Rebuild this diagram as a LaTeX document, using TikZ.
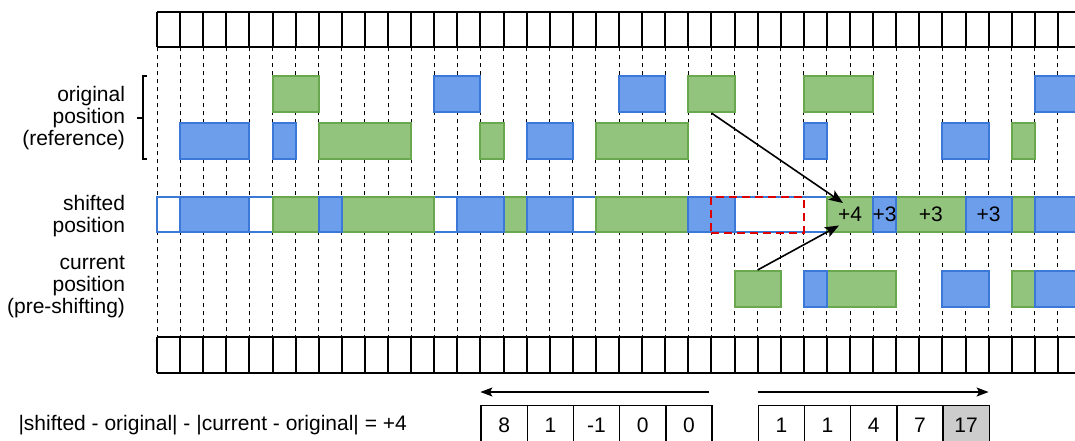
\documentclass[tikz,border=0pt]{standalone}
\usepackage{fontspec}
\setmainfont{Liberation Sans}
\usetikzlibrary{arrows.meta,fit}
\definecolor{bfill}{HTML}{6D9EEB}
\definecolor{bline}{HTML}{3C78D8}
\definecolor{gfill}{HTML}{93C47D}
\definecolor{gline}{HTML}{6AA84F}
\definecolor{redd}{HTML}{DD0000}
\definecolor{grayc}{HTML}{CCCCCC}
\newcommand{\bx}[6]{\node[#1, fit={(#3,#5) (#4,#6)}] (#2) {};}
\begin{document}
\begin{tikzpicture}[x=1pt,y=-1pt,
  font=\fontsize{21}{22}\selectfont,
  gridline/.style={draw=black, line width=0.9pt, dash pattern=on 4pt off 4pt},
  barline/.style={draw=black, line width=2pt},
  boxbase/.style={rectangle, inner sep=0pt, line width=2pt},
  bluebox/.style={boxbase, fill=bfill, draw=bline},
  greenbox/.style={boxbase, fill=gfill, draw=gline},
  whitebox/.style={boxbase, fill=white, draw=bline},
  gapbox/.style={boxbase, draw=redd, dash pattern=on 8pt off 5pt},
  arr/.style={-{Stealth[length=14pt,width=11pt,inset=3pt]}, line width=1.6pt},
  sarr/.style={-{Stealth[length=12pt,width=9pt,inset=2.5pt]}, line width=1.4pt},
  numcell/.style={rectangle, draw=black, line width=1.3pt, minimum width=46.2pt, minimum height=40pt, inner sep=0pt, anchor=north west},
  lab/.style={align=right, anchor=east}]
\useasboundingbox (0,0) rectangle (1075,440);
\clip (0,0) rectangle (1075,440);
\begin{scope}[x=23.1pt, xshift=157pt]
  % dashed guide lines
  \foreach \k in {0,...,40} \draw[gridline] (\k,47) -- (\k,336.5);
  % top and bottom bars
  \foreach \ya/\yb in {12/47, 336.5/373} {
    \draw[barline] (0,\ya) -- (41,\ya);
    \draw[barline] (0,\yb) -- (41,\yb);
    \foreach \k in {0,...,40} \draw[barline] (\k,\ya) -- (\k,\yb);
  }
  % original position: upper row
  \bx{greenbox}{u1}{5}{7}{76}{112}
  \bx{bluebox}{u2}{12}{14}{76}{112}
  \bx{bluebox}{u3}{20}{22}{76}{112}
  \bx{greenbox}{og}{23}{25}{76}{112}
  \bx{greenbox}{u5}{28}{31}{76}{112}
  \bx{bluebox}{u6}{38}{41}{76}{112}
  % original position: lower row
  \bx{bluebox}{l1}{1}{4}{123}{159}
  \bx{bluebox}{l2}{5}{6}{123}{159}
  \bx{greenbox}{l3}{7}{11}{123}{159}
  \bx{greenbox}{l4}{14}{15}{123}{159}
  \bx{bluebox}{l5}{16}{18}{123}{159}
  \bx{greenbox}{l6}{19}{23}{123}{159}
  \bx{bluebox}{l7}{28}{29}{123}{159}
  \bx{bluebox}{l8}{34}{36}{123}{159}
  \bx{greenbox}{l9}{37}{38}{123}{159}
  % shifted position
  \bx{whitebox}{sw1}{0}{1}{197}{232}
  \bx{whitebox}{sw2}{4}{5}{197}{232}
  \bx{whitebox}{sw3}{12}{13}{197}{232}
  \bx{whitebox}{sw4}{18}{19}{197}{232}
  \bx{whitebox}{sw5}{25}{29}{197}{232}
  \bx{greenbox}{sg1}{5}{7}{197}{232}
  \bx{greenbox}{sg2}{8}{12}{197}{232}
  \bx{greenbox}{sg3}{15}{16}{197}{232}
  \bx{greenbox}{sg4}{19}{23}{197}{232}
  \bx{greenbox}{sg5}{29}{31}{197}{232}
  \bx{greenbox}{sg6}{32}{35}{197}{232}
  \bx{greenbox}{sg7}{37}{38}{197}{232}
  \bx{bluebox}{sb1}{1}{4}{197}{232}
  \bx{bluebox}{sb2}{7}{8}{197}{232}
  \bx{bluebox}{sb3}{13}{15}{197}{232}
  \bx{bluebox}{sb4}{16}{18}{197}{232}
  \bx{bluebox}{sb5}{23}{25}{197}{232}
  \bx{bluebox}{sb6}{31}{32}{197}{232}
  \bx{bluebox}{sb7}{35}{37}{197}{232}
  \bx{bluebox}{sb8}{38}{41}{197}{232}
  \bx{gapbox}{gap}{24}{28}{197}{233}
  % current position
  \bx{greenbox}{cg}{25}{27}{271}{307}
  \bx{greenbox}{c2}{29}{32}{271}{307}
  \bx{bluebox}{c1}{28}{29}{271}{307}
  \bx{bluebox}{c3}{34}{36}{271}{307}
  \bx{greenbox}{c4}{37}{38}{271}{307}
  \bx{bluebox}{c5}{38}{41}{271}{307}
  % labels in shifted row
  \node at (sg5.center) {+4};
  \node at (sb6.center) {+3};
  \node at (sg6.center) {+3};
  \node at (sb7.center) {+3};
  % bottom number cells
  \node[numcell] (n1) at (14,405) {8};
  \node[numcell] (n2) at (16,405) {1};
  \node[numcell] (n3) at (18,405) {-1};
  \node[numcell] (n4) at (20,405) {0};
  \node[numcell] (n5) at (22,405) {0};
  \node[numcell] (m1) at (26,405) {1};
  \node[numcell] (m2) at (28,405) {1};
  \node[numcell] (m3) at (30,405) {4};
  \node[numcell] (m4) at (32,405) {7};
  \node[numcell, fill=grayc] (m5) at (34,405) {17};
  \coordinate (la) at (23.9,392);
  \coordinate (lb) at (14,392);
  \coordinate (ra) at (26,392);
  \coordinate (rb) at (36,392);
\end{scope}
% arrows
\coordinate (t1) at (843,203);
\coordinate (t2) at (839,225.5);
\draw[arr] (og.south) -- (t1);
\draw[arr] (cg.north) -- (t2);
\draw[sarr] (la) -- (lb);
\draw[sarr] (ra) -- (rb);
% brace
\draw[line width=1.6pt] (147,76) -- (143,76) -- (143,159) -- (147,159);
\draw[line width=1.6pt] (137,118) -- (143,118);
% left labels
\node[lab] (labo) at (128.5,118) {original\\position\\(reference)};
\node[lab] (labs) at (128.5,216) {shifted\\position};
\node[lab] (labc) at (128.5,287) {current\\position\\(pre-shifting)};
\node[anchor=west] (formula) at (15,425) {|shifted - original| - |current - original| = +4};
\end{tikzpicture}
\end{document}
